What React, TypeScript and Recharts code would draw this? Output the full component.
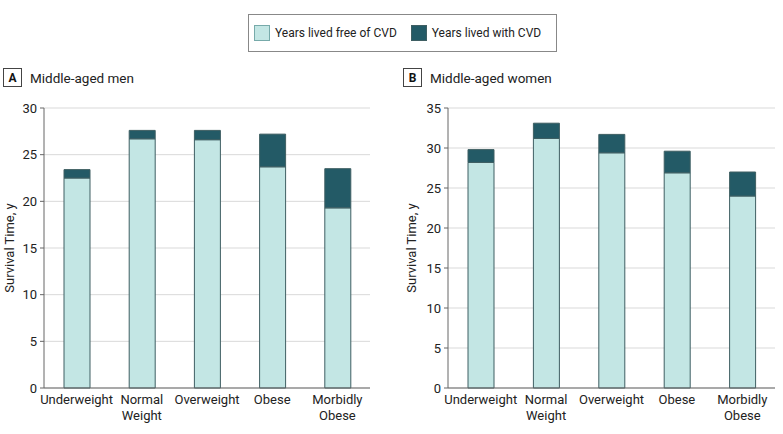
import React from 'react'
import { BarChart, Bar, XAxis, YAxis, CartesianGrid } from 'recharts'

const categories = ['Underweight', 'Normal\nWeight', 'Overweight', 'Obese', 'Morbidly\nObese']
const menFree = [22.5, 26.7, 26.6, 23.7, 19.3]
const menWith = [0.9, 0.9, 1.0, 3.5, 4.2]
const womenFree = [28.2, 31.2, 29.4, 26.9, 24.0]
const womenWith = [1.6, 1.9, 2.3, 2.7, 3.0]
const menTicks = [0, 5, 10, 15, 20, 25, 30]
const womenTicks = [0, 5, 10, 15, 20, 25, 30, 35]

const FREE = '#c3e6e4'
const WITH = '#235a66'
const EDGE = '#3f5f63'
const FONT = 'Roboto, sans-serif'

const MultiTick = (props: any) => {
  const { x, y, payload } = props
  const lines = String(payload.value).split('\n')
  return (
    <text x={x} y={y} textAnchor="middle" fontSize={13} fill="#222" fontFamily={FONT}>
      {lines.map((l, i) => (
        <tspan key={i} x={x} dy={16}>
          {l}
        </tspan>
      ))}
    </text>
  )
}

interface PanelProps {
  free: number[]
  withCvd: number[]
  ticks: number[]
  max: number
  width: number
  marginRight: number
}

const Panel: React.FC<PanelProps> = ({ free, withCvd, ticks, max, width, marginRight }) => {
  const data = categories.map((name, i) => ({ name, free: free[i], withCvd: withCvd[i] }))
  return (
    <BarChart
      width={width}
      height={434}
      data={data}
      margin={{ top: 108, right: marginRight, left: 0, bottom: 6 }}
      barCategoryGap="0%"
    >
      <CartesianGrid vertical={false} stroke="#d9d9d9" />
      <XAxis
        dataKey="name"
        axisLine={{ stroke: '#666' }}
        tickLine={false}
        tickSize={0}
        tickMargin={0}
        height={40}
        interval={0}
        tick={<MultiTick />}
      />
      <YAxis
        width={44}
        domain={[0, max]}
        ticks={ticks}
        axisLine={{ stroke: '#666' }}
        tickLine={{ stroke: '#666' }}
        tickSize={4}
        tickMargin={3}
        tick={{ fontSize: 13, fill: '#222', fontFamily: FONT }}
      />
      <Bar dataKey="free" stackId="a" fill={FREE} stroke={EDGE} strokeWidth={1} barSize={26} isAnimationActive={false} />
      <Bar dataKey="withCvd" stackId="a" fill={WITH} stroke={EDGE} strokeWidth={1} barSize={26} isAnimationActive={false} />
    </BarChart>
  )
}

const PanelTitle: React.FC<{ letter: string; title: string; left: number }> = ({ letter, title, left }) => (
  <div style={{ position: 'absolute', left, top: 68, display: 'flex', alignItems: 'center', fontFamily: FONT }}>
    <div
      style={{
        width: 17,
        height: 17,
        border: '1px solid #444',
        display: 'flex',
        alignItems: 'center',
        justifyContent: 'center',
        fontWeight: 'bold',
        fontSize: 12,
        color: '#111',
      }}
    >
      {letter}
    </div>
    <span style={{ marginLeft: 8, fontSize: 13.5, color: '#222', whiteSpace: 'nowrap' }}>{title}</span>
  </div>
)

const AxisTitle: React.FC<{ left: number }> = ({ left }) => (
  <div
    style={{
      position: 'absolute',
      left,
      top: 248,
      width: 160,
      marginLeft: -80,
      marginTop: -9,
      textAlign: 'center',
      transform: 'rotate(-90deg)',
      fontSize: 13,
      color: '#222',
      fontFamily: FONT,
      lineHeight: '18px',
    }}
  >
    Survival Time, y
  </div>
)

export default function App() {
  return (
    <div style={{ position: 'absolute', left: 0, top: 0, width: 783, height: 434, background: '#fff' }}>
      <div
        style={{
          position: 'absolute',
          left: 248,
          top: 14,
          width: 307,
          height: 36,
          border: '1px solid #888',
          display: 'flex',
          alignItems: 'center',
          fontFamily: FONT,
          fontSize: 12,
          color: '#222',
          whiteSpace: 'nowrap',
        }}
      >
        <div style={{ width: 14, height: 14, background: FREE, border: '1px solid #7aa', marginLeft: 5 }} />
        <span style={{ marginLeft: 5 }}>Years lived free of CVD</span>
        <div style={{ width: 14, height: 14, background: WITH, border: `1px solid ${EDGE}`, marginLeft: 14 }} />
        <span style={{ marginLeft: 5 }}>Years lived with CVD</span>
      </div>
      <PanelTitle letter="A" title="Middle-aged men" left={3} />
      <PanelTitle letter="B" title="Middle-aged women" left={403} />
      <AxisTitle left={10} />
      <AxisTitle left={412} />
      <div style={{ position: 'absolute', left: 0, top: 0 }}>
        <Panel free={menFree} withCvd={menWith} ticks={menTicks} max={30} width={390} marginRight={20} />
      </div>
      <div style={{ position: 'absolute', left: 404, top: 0 }}>
        <Panel free={womenFree} withCvd={womenWith} ticks={womenTicks} max={35} width={380} marginRight={9} />
      </div>
    </div>
  )
}
